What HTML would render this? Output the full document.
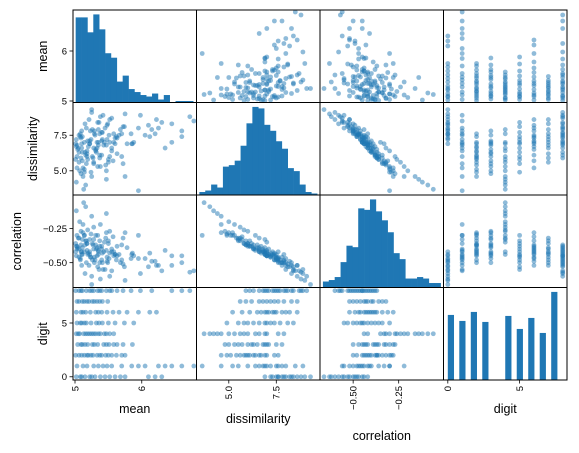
<!DOCTYPE html>
<html><head><meta charset="utf-8"><style>
html,body{margin:0;padding:0;background:#fff;}
svg{display:block;font-family:"Liberation Sans","DejaVu Sans",sans-serif;}
</style></head><body>
<svg id="chart" width="579" height="453" viewBox="0 0 579 453" xmlns="http://www.w3.org/2000/svg"></svg>
<script>
const variables = ["mean","dissimilarity","correlation","digit"];
const limits = [[4.97,6.82],[3.3,9.8],[-0.682,-0.004],[-0.3,8.3]];
const tickValues = [[5,6],[5.0,7.5],[-0.50,-0.25],[0,5]];
const tickLabels = [["5","6"],["5.0","7.5"],["\u22120.50","\u22120.25"],["0","5"]];
const meanHistRange = [5.01,6.77];
const meanHistCounts = [57,57,47,59,49,33,30,14,18,9,7,5,4,6,2,5,0,1,1,1];
const dissHistRange = [3.45,9.65];
const dissHistCounts = [2,3,7,5,19,20,23,33,48,59,58,47,43,36,31,18,16,7,2,1];
const corrHistRange = [-0.666,-0.02];
const corrHistCounts = [4,5,7,17,28,27,53,52,59,51,45,37,23,19,6,6,7,6,3,3];
const digitHistRange = [0,8];
const digitHistCounts = [65,59,68,58,0,64,51,62,47,88];
const records = [
[5.02,7.2,-0.45,0],[5.10,7.8,-0.52,0],[5.15,8.3,-0.58,0],[5.22,6.9,-0.42,0],[5.30,7.5,-0.48,0],[5.45,8.0,-0.55,0],[5.52,8.6,-0.60,0],[5.60,7.3,-0.44,0],[5.68,7.9,-0.50,0],[5.75,9.0,-0.63,0],[5.08,7.6,-0.47,0],[5.38,8.8,-0.62,0],[6.1,8.2,-0.53,0],[6.2,7.6,-0.49,0],[6.3,8.4,-0.56,0],[5.25,9.3,-0.66,0],
[5.03,5.2,-0.30,1],[5.12,4.6,-0.22,1],[5.18,6.0,-0.36,1],[5.28,5.5,-0.33,1],[5.35,6.8,-0.42,1],[5.48,7.2,-0.46,1],[5.55,6.4,-0.40,1],[5.70,7.6,-0.48,1],[5.85,6.9,-0.44,1],[6.05,7.5,-0.47,1],[6.25,8.0,-0.52,1],[6.45,7.0,-0.45,1],[6.6,7.8,-0.50,1],[6.78,8.5,-0.56,1],[5.95,3.6,-0.30,1],[5.42,8.9,-0.55,1],[6.35,6.6,-0.41,1],
[5.01,5.8,-0.36,2],[5.06,6.3,-0.40,2],[5.14,5.1,-0.30,2],[5.20,6.7,-0.43,2],[5.27,5.9,-0.37,2],[5.33,7.0,-0.45,2],[5.40,6.1,-0.38,2],[5.46,5.4,-0.32,2],[5.55,6.6,-0.42,2],[5.62,7.4,-0.48,2],[5.70,6.0,-0.37,2],[5.75,4.6,-0.28,2],[5.10,6.9,-0.44,2],[5.24,4.9,-0.29,2],[5.37,7.6,-0.50,2],[5.50,5.6,-0.34,2],[5.18,6.4,-0.41,2],
[5.04,6.5,-0.39,3],[5.11,5.7,-0.33,3],[5.19,7.1,-0.44,3],[5.26,6.0,-0.36,3],[5.34,5.3,-0.30,3],[5.43,6.8,-0.42,3],[5.51,7.5,-0.47,3],[5.63,6.2,-0.38,3],[5.72,5.5,-0.32,3],[5.86,6.9,-0.43,3],[5.15,6.3,-0.37,3],[5.29,7.8,-0.50,3],[5.47,5.0,-0.28,3],[5.09,4.8,-0.27,3],[5.58,7.0,-0.45,3],
[5.02,4.2,-0.12,4],[5.07,5.0,-0.20,4],[5.13,3.7,-0.06,4],[5.19,5.8,-0.26,4],[5.25,4.6,-0.16,4],[5.31,6.4,-0.30,4],[5.38,5.3,-0.22,4],[5.44,7.0,-0.35,4],[5.52,6.0,-0.27,4],[5.58,7.6,-0.42,4],[5.05,6.6,-0.32,4],[5.16,4.0,-0.09,4],[5.28,5.6,-0.24,4],[5.35,7.9,-0.44,4],[5.47,4.4,-0.14,4],[5.22,6.9,-0.33,4],
[5.03,6.0,-0.38,5],[5.10,6.6,-0.42,5],[5.17,5.5,-0.34,5],[5.24,7.2,-0.46,5],[5.32,6.3,-0.40,5],[5.41,7.7,-0.50,5],[5.50,5.8,-0.36,5],[5.60,6.9,-0.44,5],[5.74,8.1,-0.53,5],[5.88,7.0,-0.45,5],[5.14,4.9,-0.30,5],[5.36,8.4,-0.55,5],[5.08,7.4,-0.48,5],
[5.02,6.7,-0.38,6],[5.09,7.3,-0.42,6],[5.16,6.1,-0.34,6],[5.23,7.8,-0.46,6],[5.31,6.5,-0.37,6],[5.40,7.1,-0.40,6],[5.48,8.2,-0.49,6],[5.57,5.7,-0.31,6],[5.66,7.5,-0.44,6],[5.78,6.9,-0.39,6],[5.95,8.0,-0.47,6],[6.12,7.4,-0.43,6],[6.22,8.6,-0.52,6],[5.12,5.2,-0.28,6],[5.35,7.0,-0.41,6],
[5.03,6.8,-0.40,7],[5.11,7.4,-0.44,7],[5.18,6.2,-0.36,7],[5.26,7.9,-0.48,7],[5.33,6.6,-0.39,7],[5.41,7.2,-0.43,7],[5.49,8.3,-0.50,7],[5.06,5.6,-0.32,7],[5.21,8.6,-0.52,7],[5.37,5.9,-0.34,7],[5.14,7.0,-0.42,7],[5.29,7.6,-0.46,7],
[5.01,6.9,-0.42,8],[5.06,7.5,-0.46,8],[5.11,6.3,-0.39,8],[5.17,8.0,-0.50,8],[5.22,7.1,-0.44,8],[5.28,6.6,-0.40,8],[5.34,8.4,-0.53,8],[5.40,7.7,-0.48,8],[5.47,6.8,-0.41,8],[5.55,8.7,-0.56,8],[5.63,7.3,-0.45,8],[5.72,8.1,-0.51,8],[5.84,7.6,-0.47,8],[5.98,8.9,-0.58,8],[6.15,7.9,-0.49,8],[6.45,8.3,-0.52,8],[6.6,7.4,-0.45,8],[6.72,8.8,-0.57,8],[5.09,5.9,-0.37,8],[5.25,9.1,-0.60,8],[5.37,6.1,-0.38,8],[5.52,7.0,-0.43,8]
];

const histRanges=[meanHistRange,dissHistRange,corrHistRange,digitHistRange];
const histCounts=[meanHistCounts,dissHistCounts,corrHistCounts,digitHistCounts];
const NS="http://www.w3.org/2000/svg";
const svg=document.getElementById('chart');
const X0=73,Y0=10,PW=123.5,PH=92.5,COLOR="#1f77b4";
function mk(tag,attrs,parent){const e=document.createElementNS(NS,tag);for(const k in attrs)e.setAttribute(k,attrs[k]);(parent||svg).appendChild(e);return e;}
function xScale(v,col,val){const l=limits[v];return X0+col*PW+(val-l[0])/(l[1]-l[0])*PW;}
function yScale(v,row,val){const l=limits[v];return Y0+(row+1)*PH-(val-l[0])/(l[1]-l[0])*PH;}

for(let r=0;r<4;r++){for(let c=0;c<4;c++){
  const g=mk('g',{});
  
  
  const px=X0+c*PW,py=Y0+r*PH;
  const cp=mk('clipPath',{id:'cp'+r+c},g);mk('rect',{x:px,y:py,width:PW,height:PH},cp);
  const inner=mk('g',{'clip-path':'url(#cp'+r+c+')'},g);
  if(r===c){
    const counts=histCounts[r],rg=histRanges[r],n=counts.length,bw=(rg[1]-rg[0])/n;
    const mx=Math.max(...counts)*1.05;
    counts.forEach((cnt,i)=>{
      const a=rg[0]+i*bw;let b=a+bw; if(r===3) b=a+bw*0.54;
      const x1=xScale(c,c,a),x2=xScale(c,c,b),h=cnt/mx*PH;
      const rect=mk('rect',{x:x1,y:py+PH-h,width:Math.max(0,x2-x1+(r===3?0:0.3)),height:h,fill:COLOR},inner);
      
      
    });
  } else {
    records.forEach((rec,i)=>{
      const cx=xScale(c,c,rec[c]),cy=yScale(r,r,rec[r]);
      const pt=mk('circle',{cx:cx,cy:cy,r:2.4,fill:COLOR,'fill-opacity':0.5},inner);
      
      
    });
  }
  mk('rect',{x:px,y:py,width:PW,height:PH,fill:'none',stroke:'#000','stroke-width':1},g);
}}

const yLabelX=[43,33,17,43];
for(let r=0;r<4;r++){
  tickValues[r].forEach((tv,i)=>{
    const y=yScale(r,r,tv);
    mk('line',{x1:X0-3.5,x2:X0,y1:y,y2:y,stroke:'#000','stroke-width':0.8});
    const t=mk('text',{x:X0-6,y:y+3.3,'font-size':9.5,'text-anchor':'end',fill:'#000'});
    t.textContent=tickLabels[r][i];
    
    
  });
  const yl=mk('text',{x:0,y:0,'font-size':12.5,'text-anchor':'middle',fill:'#000',transform:'translate('+(yLabelX[r]+4)+','+(Y0+r*PH+PH/2)+') rotate(-90)'});
  yl.textContent=variables[r];
  
  
}
const xBottom=Y0+4*PH;
const labelY=[413,423,440,413];
for(let c=0;c<4;c++){
  tickValues[c].forEach((tv,i)=>{
    const x=xScale(c,c,tv);
    mk('line',{x1:x,x2:x,y1:xBottom,y2:xBottom+3.5,stroke:'#000','stroke-width':0.8});
    const t=mk('text',{x:0,y:0,'font-size':9.5,'text-anchor':'end',fill:'#000',transform:'translate('+(x+3.3)+','+(xBottom+6)+') rotate(-90)'});
    t.textContent=tickLabels[c][i];
    
    
  });
  const xl=mk('text',{x:X0+c*PW+PW/2,y:labelY[c],'font-size':12.5,'text-anchor':'middle',fill:'#000'});
  xl.textContent=variables[c];
  
  
}
</script>
</body></html>
